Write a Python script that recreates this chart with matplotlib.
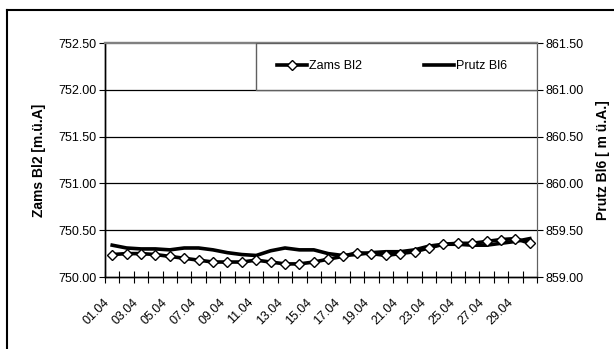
import matplotlib.pyplot as plt
from matplotlib.lines import Line2D
from matplotlib.patches import Rectangle
from matplotlib.ticker import FixedLocator, FormatStrFormatter

plt.rcParams['font.family'] = ['Liberation Sans Narrow', 'Liberation Sans', 'DejaVu Sans']

# Days of April
days = [f"{d:02d}.04" for d in range(1, 31)]

# Water levels (m ü.A.)
zams_bl2 = [750.24, 750.25, 750.25, 750.24, 750.22, 750.20, 750.18, 750.16, 750.16, 750.16,
            750.18, 750.16, 750.14, 750.14, 750.16, 750.19, 750.22, 750.26, 750.25, 750.23,
            750.25, 750.27, 750.31, 750.35, 750.36, 750.36, 750.38, 750.40, 750.41, 750.36]
prutz_bl6 = [859.34, 859.31, 859.30, 859.30, 859.29, 859.31, 859.31, 859.29, 859.26, 859.24,
             859.23, 859.28, 859.31, 859.29, 859.29, 859.25, 859.23, 859.24, 859.26, 859.27,
             859.27, 859.29, 859.33, 859.35, 859.35, 859.34, 859.34, 859.36, 859.38, 859.41]

W, H = 614, 349
fig = plt.figure(figsize=(W / 100, H / 100), dpi=100)
# plot area in pixels: x 105..537, y 43..277
ax = fig.add_axes([105 / W, 1 - 277 / H, 432 / W, 234 / H])
ax2 = ax.twinx()

x = list(range(len(days)))
ax2.plot(x, prutz_bl6, color='black', lw=2.6, zorder=3, label='Prutz Bl6')
ax.plot(x, zams_bl2, color='black', lw=2.6, marker='D', ms=5.5, mfc='white', mec='black',
        mew=1.0, zorder=4, label='Zams Bl2')
ax.set_zorder(ax2.get_zorder() + 1)
ax.patch.set_visible(False)

ax.set_xlim(-0.5, len(days) - 0.5)
ax.set_ylim(750.0, 752.5)
ax2.set_ylim(859.0, 861.5)
ax.set_yticks([750.0, 750.5, 751.0, 751.5, 752.0, 752.5])
ax2.set_yticks([859.0, 859.5, 860.0, 860.5, 861.0, 861.5])
ax.yaxis.set_major_formatter(FormatStrFormatter('%.2f'))
ax2.yaxis.set_major_formatter(FormatStrFormatter('%.2f'))

# category boundaries as ticks, labels on every second day
ax.xaxis.set_major_locator(FixedLocator([i - 0.5 for i in range(len(days) + 1)]))
ax.set_xticklabels([])
ax.xaxis.set_minor_locator(FixedLocator(x[::2]))
ax.set_xticklabels(days[::2], minor=True, rotation=45, ha='right', fontsize=9)
ax.tick_params(axis='x', which='major', direction='inout', length=8, width=0.8)
ax.tick_params(axis='x', which='minor', length=0, pad=14)
ax.tick_params(axis='y', direction='out', length=4, width=0.8, labelsize=9, pad=2)
ax2.tick_params(axis='y', direction='out', length=4, width=0.8, labelsize=9, pad=2)

for yv in [750.5, 751.0, 751.5, 752.0]:
    ax.axhline(yv, color='black', lw=0.9, zorder=1)

for a in (ax, ax2):
    a.spines['top'].set_color('#808080')
    a.spines['top'].set_linewidth(1.6)
    a.spines['right'].set_color('#606060')
    a.spines['left'].set_linewidth(1.0)
    a.spines['bottom'].set_linewidth(1.0)

ax.set_ylabel('Zams Bl2 [m.ü.A]', family='Liberation Sans', fontweight='bold', fontsize=10,
              labelpad=9)
ax2.set_ylabel('Prutz Bl6 [ m ü.A.]', family='Liberation Sans', fontweight='bold', fontsize=10,
               labelpad=9)

# legend box from the top of the plot down to the 752.00 grid line
ax.add_patch(Rectangle((0.35, 0.8), 0.65, 0.2, transform=ax.transAxes, facecolor='white',
                       edgecolor='#606060', lw=1.0, zorder=5))
h1, l1 = ax.get_legend_handles_labels()
h2, l2 = ax2.get_legend_handles_labels()
leg = ax.legend(h1 + h2, l1 + l2, ncol=2, loc='center', bbox_to_anchor=(0.35, 0.8, 0.63, 0.2),
                frameon=False, fontsize=9, handlelength=2.4, handletextpad=0.15,
                columnspacing=5.0, borderaxespad=0)
leg.set_zorder(6)

# outer chart frame (left and top edges visible)
fig.add_artist(Line2D([7 / W, 7 / W], [0, 1 - 10 / H], color='black', lw=1.5,
                      transform=fig.transFigure))
fig.add_artist(Line2D([7 / W, 1], [1 - 10 / H, 1 - 10 / H], color='black', lw=1.5,
                      transform=fig.transFigure))

fig.savefig('out.png', dpi=100)
